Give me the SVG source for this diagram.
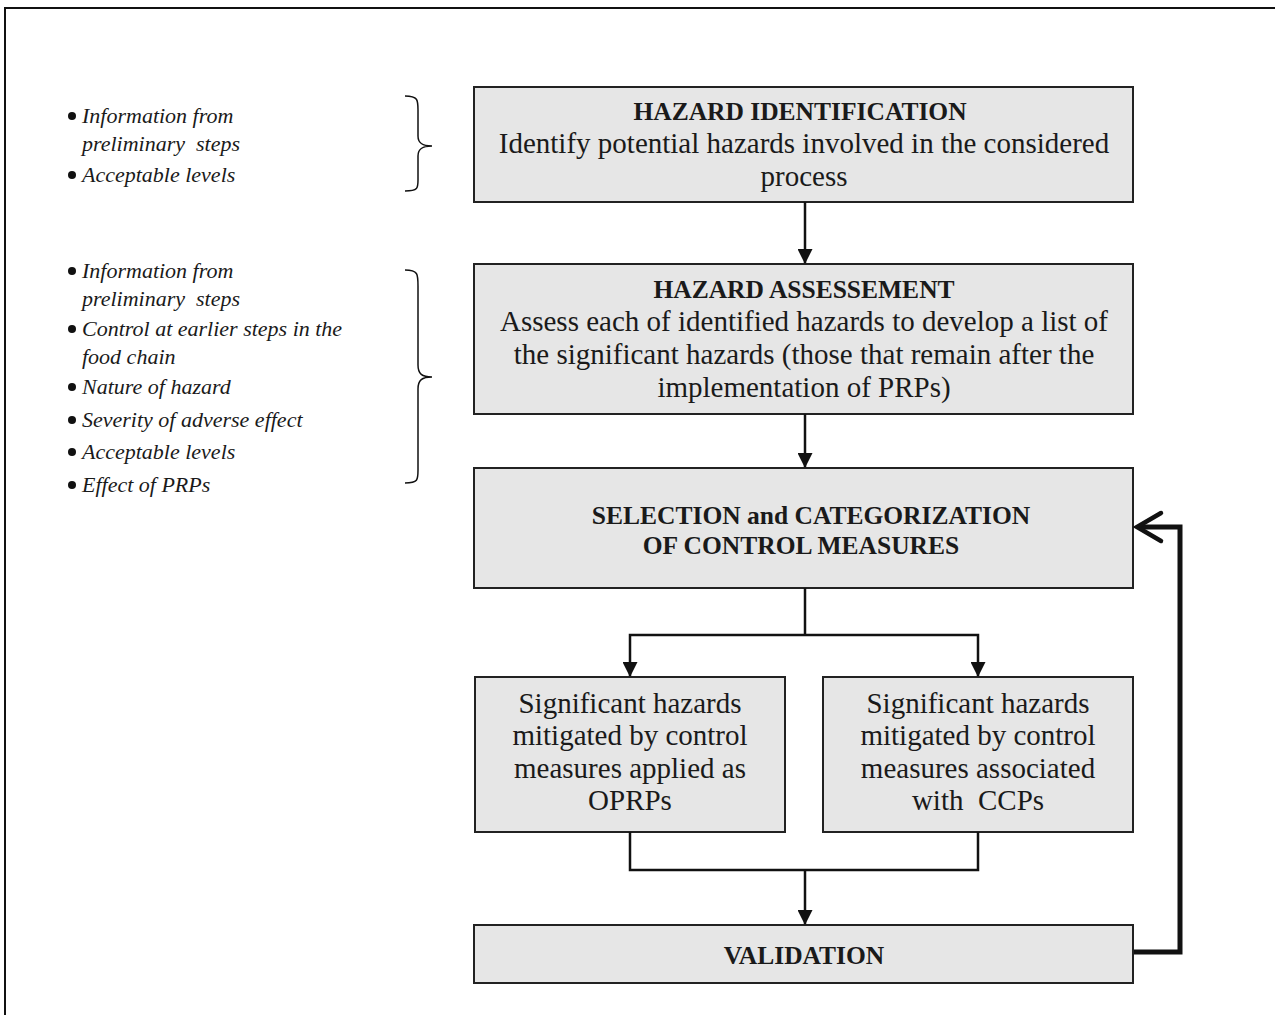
<svg xmlns="http://www.w3.org/2000/svg" width="1275" height="1015" viewBox="0 0 1275 1015">
<style>
.box{fill:#e6e6e6;stroke:#222;stroke-width:2}
.t{font-family:"Liberation Serif","DejaVu Serif",serif;font-size:29px;fill:#1a1a1a;text-anchor:middle}
.b{font-weight:bold;font-size:25.5px}
.li{font-family:"Liberation Serif","DejaVu Serif",serif;font-size:22px;font-style:italic;fill:#1a1a1a}
.c{fill:none;stroke:#111;stroke-width:2.5}
.br{fill:none;stroke:#111;stroke-width:1.5}
</style>
<defs>
<marker id="ah" markerWidth="15" markerHeight="15" refX="14" refY="7.5" orient="auto" markerUnits="userSpaceOnUse" viewBox="0 0 15 15">
<path d="M0,0 L15,7.5 L0,15 Z" fill="#111"/>
</marker>
</defs>
<rect x="0" y="0" width="1275" height="1015" fill="#fff"/>
<path d="M5,1015 V8 H1275" fill="none" stroke="#111" stroke-width="2"/>

<g id="inputs1">
<circle cx="72" cy="116" r="4" fill="#111"/>
<text class="li" x="82" y="123">Information from</text>
<text class="li" x="82" y="151">preliminary&#160; steps</text>
<circle cx="72" cy="175" r="4" fill="#111"/>
<text class="li" x="82" y="182">Acceptable levels</text>
<path class="br" d="M405,96 C418,96 418,100 418,110 V136 C418,143 422,146 432,146 C422,146 418,149 418,156 V180 C418,188 418,191 405,191"/>
</g>

<g id="inputs2">
<circle cx="72" cy="271" r="4" fill="#111"/>
<text class="li" x="82" y="278">Information from</text>
<text class="li" x="82" y="306">preliminary&#160; steps</text>
<circle cx="72" cy="329" r="4" fill="#111"/>
<text class="li" x="82" y="336">Control at earlier steps in the</text>
<text class="li" x="82" y="364">food chain</text>
<circle cx="72" cy="387" r="4" fill="#111"/>
<text class="li" x="82" y="394">Nature of hazard</text>
<circle cx="72" cy="420" r="4" fill="#111"/>
<text class="li" x="82" y="427">Severity of adverse effect</text>
<circle cx="72" cy="452" r="4" fill="#111"/>
<text class="li" x="82" y="459">Acceptable levels</text>
<circle cx="72" cy="485" r="4" fill="#111"/>
<text class="li" x="82" y="492">Effect of PRPs</text>
<path class="br" d="M405,270 C418,270 418,274 418,286 V365 C418,374 422,377 432,377 C422,377 418,380 418,389 V470 C418,480 418,483 405,483"/>
</g>

<g id="hazard-identification">
<rect class="box" x="474" y="87" width="659" height="115"/>
<text class="t b" x="800" y="120">HAZARD IDENTIFICATION</text>
<text class="t" x="804" y="153">Identify potential hazards involved in the considered</text>
<text class="t" x="804" y="186">process</text>
</g>

<g id="hazard-assessment">
<rect class="box" x="474" y="264" width="659" height="150"/>
<text class="t b" x="804" y="298">HAZARD ASSESSEMENT</text>
<text class="t" x="804" y="331">Assess each of identified hazards to develop a list of</text>
<text class="t" x="804" y="364">the significant hazards (those that remain after the</text>
<text class="t" x="804" y="397">implementation of PRPs)</text>
</g>

<g id="selection">
<rect class="box" x="474" y="468" width="659" height="120"/>
<text class="t b" x="811" y="524">SELECTION and CATEGORIZATION</text>
<text class="t b" x="801" y="554">OF CONTROL MEASURES</text>
</g>

<g id="oprps">
<rect class="box" x="475" y="677" width="310" height="155"/>
<text class="t" x="630" y="713">Significant hazards</text>
<text class="t" x="630" y="745">mitigated by control</text>
<text class="t" x="630" y="778">measures applied as</text>
<text class="t" x="630" y="810">OPRPs</text>
</g>

<g id="ccps">
<rect class="box" x="823" y="677" width="310" height="155"/>
<text class="t" x="978" y="713">Significant hazards</text>
<text class="t" x="978" y="745">mitigated by control</text>
<text class="t" x="978" y="778">measures associated</text>
<text class="t" x="978" y="810">with&#160; CCPs</text>
</g>

<g id="validation">
<rect class="box" x="474" y="925" width="659" height="58"/>
<text class="t b" x="804" y="964">VALIDATION</text>
</g>

<g id="connectors">
<path class="c" d="M805,202 V263" marker-end="url(#ah)"/>
<path class="c" d="M805,414 V467" marker-end="url(#ah)"/>
<path class="c" d="M805,588 V635"/>
<path class="c" d="M805,635 H630 V676" marker-end="url(#ah)"/>
<path class="c" d="M805,635 H978 V676" marker-end="url(#ah)"/>
<path class="c" d="M630,832 V870 H978 V832"/>
<path class="c" d="M805,870 V924" marker-end="url(#ah)"/>
<path d="M1134,952 H1180 V527 H1138" fill="none" stroke="#111" stroke-width="5"/>
<path d="M1161,513 L1137,527 L1161,541" fill="none" stroke="#111" stroke-width="4.5" stroke-linecap="round" stroke-linejoin="miter"/>
</g>
</svg>
